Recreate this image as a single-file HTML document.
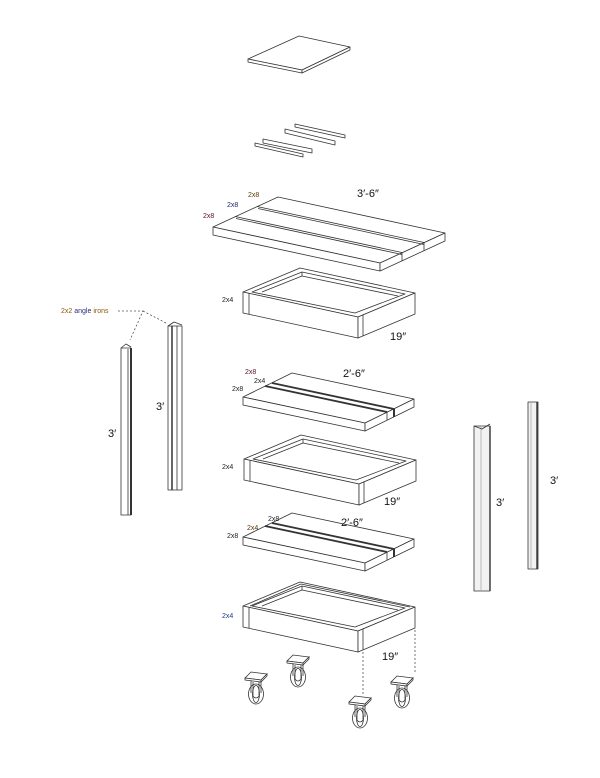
<!DOCTYPE html>
<html><head><meta charset="utf-8"><style>
html,body{margin:0;padding:0;background:#fff;}
svg{display:block;font-family:"Liberation Sans",sans-serif;}
</style></head><body>
<svg width="600" height="778" viewBox="0 0 600 778" xmlns="http://www.w3.org/2000/svg">
<defs>
<g id="caster" fill="#fff" stroke="#333" stroke-width="0.8">
  <ellipse cx="0" cy="17" rx="7.5" ry="10"/>
  <ellipse cx="0" cy="17" rx="3.5" ry="8.5"/>
  <path d="M-5,4 L-5,16 M5,4 L5,16 M-3,5 L-3,19 Q0,23 3,19 L3,5" fill="none"/>
  <polygon points="-11,1 -5,-5 11,-3 5,3" />
  <polygon points="-11,1 5,3 5,5 -11,3"/>
  <polygon points="5,3 11,-3 11,-1 5,5"/>
</g>
</defs>
<g fill="#fff" stroke="#333" stroke-width="0.8" stroke-linejoin="round">
<polygon points="248,59 299,36 350,47 302,70"/>
<polygon points="248,59 302,70 302,73 248,62"/>
<polygon points="302,70 350,47 350,50 302,73"/>
<polygon points="295,124 345,135 345,138 295,127"/>
<polygon points="285,129 335,141 335,145 285,133"/>
<polygon points="263,139 312,149 312,153 263,143"/>
<polygon points="255,143 303,154 303,157 255,146"/>

<polygon points="213,227 278,197 445,233 380,263"/>
<polygon points="213,227 380,263 380,271 213,235"/>
<polygon points="380,263 445,233 445,241 380,271"/>
<line x1="235" y1="216.5" x2="402" y2="252.5"/>
<line x1="236" y1="218.5" x2="402" y2="254.5"/>
<line x1="257" y1="206.5" x2="424" y2="242.5"/>
<line x1="258" y1="208.5" x2="424" y2="244.5"/>
<line x1="402" y1="253" x2="402" y2="261"/>
<line x1="424" y1="243" x2="424" y2="251"/>

<g id="frame">
<polygon points="243,292 300,268 415,293 358,317"/>
<polygon points="252,292 302,272 405,294 355,313"/>
<polyline points="262,292 302,276 398,296" fill="none"/>
<line x1="302" y1="272" x2="302" y2="276"/>
<polygon points="243,292 358,317 358,338 243,313"/>
<polygon points="358,317 415,293 415,314 358,338"/>
<line x1="249" y1="293" x2="249" y2="314"/>
<line x1="363" y1="315" x2="363" y2="336"/>
</g>
<g transform="translate(1,167)"><use href="#frame"/></g>
<g transform="translate(0,314)"><use href="#frame"/>
<polyline points="250,292 301,270 410,293" fill="none"/></g>

<g id="slab2">
<polygon points="243,397 292,373 414,399 365,423"/>
<polygon points="243,397 365,423 365,431 243,405"/>
<polygon points="365,423 414,399 414,407 365,431"/>
<line x1="265" y1="386" x2="387" y2="412" stroke-width="1.8"/>
<line x1="272" y1="383" x2="394" y2="409" stroke-width="1.8"/>
<line x1="387" y1="412" x2="387" y2="420"/>
<line x1="394" y1="409" x2="394" y2="417" stroke-width="2"/>
</g>
<g transform="translate(0,140)"><use href="#slab2"/></g>

<rect x="121" y="348" width="10" height="167"/>
<line x1="128" y1="349" x2="128" y2="515"/>
<line x1="131" y1="348" x2="131" y2="515" stroke-width="2"/>
<polyline points="121,348 126,344 131,347" fill="none"/>
<rect x="168" y="326" width="14" height="164"/>
<line x1="172" y1="326" x2="172" y2="490" stroke-width="1.5"/>
<line x1="177" y1="326" x2="177" y2="490"/>
<polyline points="168,326 174,322 182,325" fill="none"/>
<rect x="474" y="426" width="16" height="165" fill="#f2f2f2"/>
<line x1="481" y1="427" x2="481" y2="591" stroke="#aaa"/>
<line x1="490" y1="426" x2="490" y2="591" stroke-width="1.4"/>
<polyline points="474,426 482,429 490,424" fill="none"/>
<rect x="528" y="402" width="10" height="167" fill="#f2f2f2"/>
<line x1="531" y1="403" x2="531" y2="568" stroke="#aaa"/>
<line x1="537" y1="402" x2="537" y2="569" stroke-width="1.4"/>
</g>

<use href="#caster" x="256" y="677"/>
<use href="#caster" x="298" y="660"/>
<use href="#caster" x="360" y="701"/>
<use href="#caster" x="402" y="681"/>

<g stroke="#555" stroke-width="0.8" stroke-dasharray="2,2" fill="none">
<line x1="363" y1="648" x2="363" y2="696"/>
<line x1="415" y1="630" x2="415" y2="674"/>
<polyline points="118,311 143,311 130,340"/>
<line x1="143" y1="311" x2="166" y2="323"/>
</g>

<g fill="#222" font-size="7">
<text x="248" y="197" fill="#5a3a00">2x8</text>
<text x="227" y="207" fill="#1a2a6a">2x8</text>
<text x="203" y="218" fill="#5a1020">2x8</text>
<text x="222" y="302">2x4</text>
<text x="245" y="374" fill="#5a1020">2x8</text>
<text x="254" y="383">2x4</text>
<text x="232" y="391">2x8</text>
<text x="222" y="469">2x4</text>
<text x="268" y="521">2x8</text>
<text x="247" y="530" fill="#5a3a00">2x4</text>
<text x="227" y="538">2x8</text>
<text x="222" y="618" fill="#1a3a8a">2x4</text>
<text x="61" y="313" fill="#8a5a00">2x2 <tspan fill="#2a2a7a">angle</tspan> irons</text>
</g>
<g fill="#111" font-size="11">
<text x="357" y="197">3′-6″</text>
<text x="390" y="340">19″</text>
<text x="343" y="377">2′-6″</text>
<text x="384" y="505">19″</text>
<text x="341" y="526">2′-6″</text>
<text x="382" y="660">19″</text>
<text x="108" y="437">3′</text>
<text x="156" y="410">3′</text>
<text x="496" y="506">3′</text>
<text x="550" y="484">3′</text>
</g>
</svg>
</body></html>
